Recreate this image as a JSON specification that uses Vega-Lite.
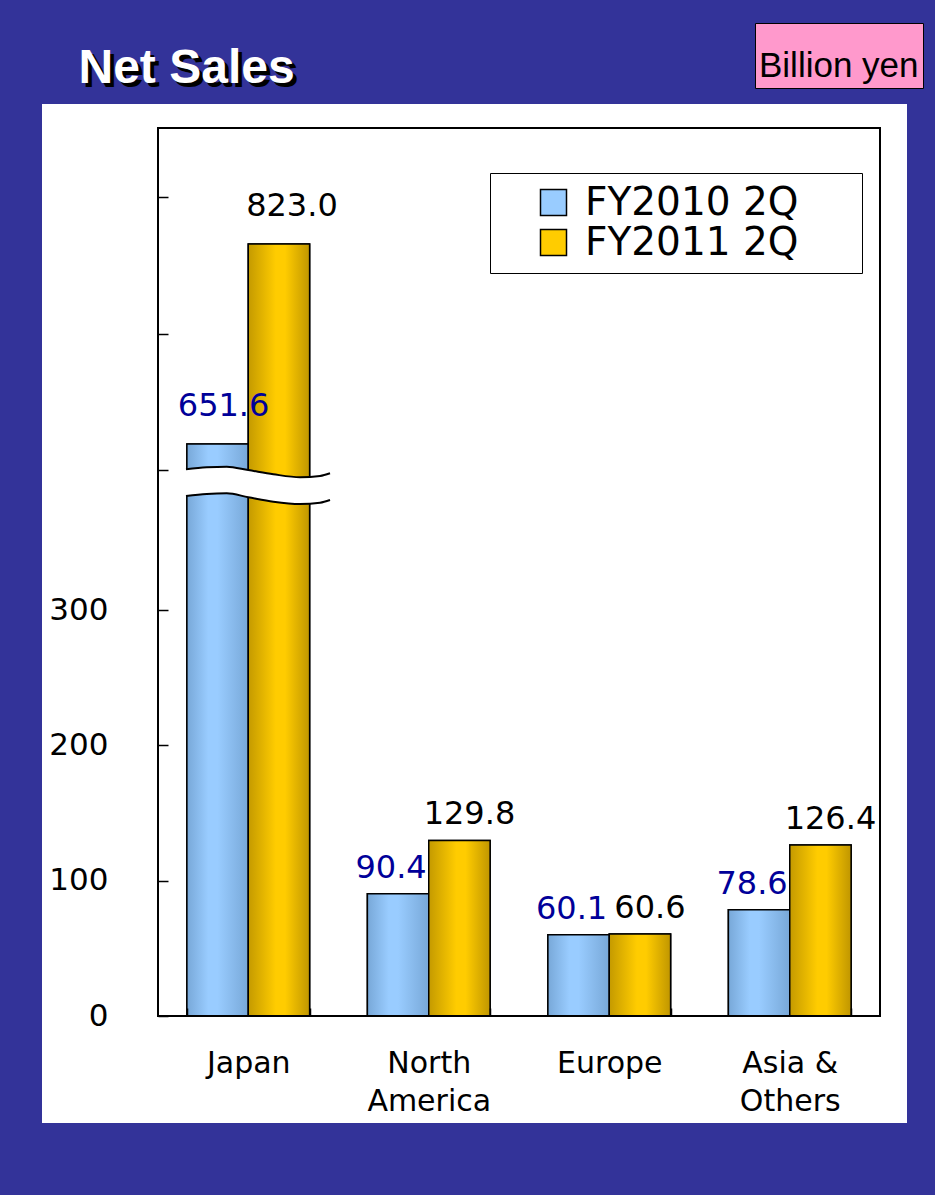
{
  "$schema": "https://vega.github.io/schema/vega-lite/v6.json",
  "width": 865,
  "height": 1019,
  "autosize": {"type": "none"},
  "padding": {"left": 42, "top": 104, "right": 28, "bottom": 72},
  "background": "#333399",
  "view": {"fill": "white", "stroke": null},
  "config": {"view": {"fill": "white", "stroke": null}, "font": "DejaVu Sans"},
  "datasets": {
    "sales": [
      {"region": "Japan", "series": "FY2010 2Q", "value": 651.6},
      {"region": "Japan", "series": "FY2011 2Q", "value": 823.0},
      {"region": "North America", "series": "FY2010 2Q", "value": 90.4},
      {"region": "North America", "series": "FY2011 2Q", "value": 129.8},
      {"region": "Europe", "series": "FY2010 2Q", "value": 60.1},
      {"region": "Europe", "series": "FY2011 2Q", "value": 60.6},
      {"region": "Asia & Others", "series": "FY2010 2Q", "value": 78.6},
      {"region": "Asia & Others", "series": "FY2011 2Q", "value": 126.4}
    ],
    "frame": [{"x0": 0, "x1": 4, "y0": 0, "y1": 922.4}],
    "wave": [
      {"x": 0.155, "top": 404.1, "bottom": 384.3},
      {"x": 0.270, "top": 405.5, "bottom": 385.8},
      {"x": 0.381, "top": 406.0, "bottom": 386.3},
      {"x": 0.500, "top": 403.5, "bottom": 383.4},
      {"x": 0.639, "top": 400.4, "bottom": 380.1},
      {"x": 0.787, "top": 398.2, "bottom": 378.4},
      {"x": 0.898, "top": 399.1, "bottom": 379.4},
      {"x": 0.953, "top": 401.1, "bottom": 381.4}
    ],
    "unit": [{"unit": "Billion yen"}]
  },
  "layer": [
    {
      "data": {"name": "sales"},
      "encoding": {
        "x": {
          "field": "region",
          "type": "nominal",
          "sort": ["Japan", "North America", "Europe", "Asia & Others"],
          "scale": {"range": [116, 838], "paddingInner": 0.32, "paddingOuter": 0.16},
          "axis": {
            "title": "Net Sales",
            "titleColor": "white",
            "titleFont": "Liberation Sans",
            "titleFontSize": 48,
            "titleFontWeight": "bold",
            "titleX": 36,
            "titleY": -934,
            "titleAlign": "left",
            "titleBaseline": "alphabetic",
            "titleAngle": 0,
            "offset": -107,
            "domain": false,
            "tickBand": "extent",
            "tickSize": -8,
            "tickColor": "black",
            "tickWidth": 1.5,
            "labelFont": "DejaVu Sans",
            "labelFontSize": 30,
            "labelColor": "black",
            "labelPadding": 40,
            "labelAngle": 0,
            "labelLineHeight": 38,
            "labelExpr": "datum.value == 'North America' ? ['North', 'America'] : datum.value == 'Asia & Others' ? ['Asia &', 'Others'] : datum.value",
            "zindex": 1
          }
        },
        "xOffset": {"field": "series", "type": "nominal"},
        "y": {
          "field": "value",
          "type": "quantitative",
          "title": "Net Sales",
          "scale": {"domain": [0, 413.9, 641.3, 922.4], "range": [912, 352, 352, 24], "nice": false, "zero": false},
          "axis": {
            "titleColor": "black",
            "titleFont": "Liberation Sans",
            "titleFontSize": 48,
            "titleFontWeight": "bold",
            "titleX": -76,
            "titleY": -18,
            "titleAngle": 0,
            "titleAlign": "left",
            "titleBaseline": "alphabetic",
            "offset": -116,
            "domain": false,
            "grid": false,
            "values": [0, 100, 200, 300, 403.5, 746, 863],
            "labelExpr": "datum.value <= 300 ? datum.label : ''",
            "labelFlush": false,
            "labelOverlap": false,
            "tickSize": -10,
            "tickWidth": 1.5,
            "tickColor": "black",
            "labelFont": "DejaVu Sans",
            "labelFontSize": 31,
            "labelColor": "black",
            "labelPadding": 60
          }
        }
      },
      "layer": [
        {
          "mark": {"type": "bar", "stroke": "black", "strokeWidth": 1.5},
          "encoding": {
            "fill": {
              "field": "series",
              "type": "nominal",
              "scale": {"domain": ["FY2010 2Q", "FY2011 2Q"], "range": ["#99ccff", "#ffcc00"]},
              "legend": {
                "orient": "none",
                "legendX": 448,
                "legendY": 69,
                "title": null,
                "fillColor": "white",
                "strokeColor": "black",
                "padding": 10,
                "symbolType": "square",
                "symbolSize": 676,
                "symbolStrokeColor": "black",
                "symbolStrokeWidth": 1.5,
                "symbolOffset": 34,
                "labelFont": "DejaVu Sans",
                "labelFontSize": 39,
                "labelColor": "black",
                "labelOffset": 12,
                "labelLimit": 400,
                "labelExpr": "datum.label + '  \u2800'",
                "rowPadding": 0
              }
            }
          }
        },
        {
          "transform": [{"filter": "datum.series == 'FY2010 2Q'"}],
          "mark": {
            "type": "bar", "stroke": "black", "strokeWidth": 1.5,
            "fill": {"gradient": "linear", "x1": 0, "y1": 0, "x2": 1, "y2": 0, "stops": [
              {"offset": 0, "color": "#78a8d8"},
              {"offset": 0.35, "color": "#99ccff"},
              {"offset": 0.5, "color": "#99ccff"},
              {"offset": 1, "color": "#78a8d8"}
            ]}
          }
        },
        {
          "transform": [{"filter": "datum.series == 'FY2011 2Q'"}],
          "mark": {
            "type": "bar", "stroke": "black", "strokeWidth": 1.5,
            "fill": {"gradient": "linear", "x1": 0, "y1": 0, "x2": 1, "y2": 0, "stops": [
              {"offset": 0, "color": "#c49a00"},
              {"offset": 0.45, "color": "#ffcc00"},
              {"offset": 0.6, "color": "#ffcc00"},
              {"offset": 1, "color": "#c09600"}
            ]}
          }
        },
        {
          "transform": [{"filter": "datum.series == 'FY2010 2Q' && datum.value <= 400"}],
          "mark": {"type": "text", "baseline": "alphabetic", "dy": -16, "dx": -7, "fontSize": 32, "font": "DejaVu Sans", "color": "#000099"},
          "encoding": {"text": {"field": "value", "type": "quantitative", "format": ".1f"}}
        },
        {
          "transform": [{"filter": "datum.series == 'FY2010 2Q' && datum.value > 400"}],
          "mark": {"type": "text", "baseline": "alphabetic", "dy": -28, "dx": 6, "fontSize": 32, "font": "DejaVu Sans", "color": "#000099"},
          "encoding": {"text": {"field": "value", "type": "quantitative", "format": ".1f"}}
        },
        {
          "transform": [{"filter": "datum.series == 'FY2011 2Q' && datum.value <= 400"}],
          "mark": {"type": "text", "baseline": "alphabetic", "dy": -16, "dx": 10, "fontSize": 32, "font": "DejaVu Sans", "color": "black"},
          "encoding": {"text": {"field": "value", "type": "quantitative", "format": ".1f"}}
        },
        {
          "transform": [{"filter": "datum.series == 'FY2011 2Q' && datum.value > 400"}],
          "mark": {"type": "text", "baseline": "alphabetic", "dy": -28, "dx": 13, "fontSize": 32, "font": "DejaVu Sans", "color": "black"},
          "encoding": {"text": {"field": "value", "type": "quantitative", "format": ".1f"}}
        }
      ]
    },
    {
      "layer": [
        {
          "data": {"name": "wave"},
          "mark": {"type": "area", "fill": "white", "interpolate": "monotone"},
          "encoding": {
            "x": {"field": "x", "type": "quantitative", "scale": {"domain": [0, 4], "range": [116, 838]}, "axis": null},
            "y": {"field": "top", "type": "quantitative", "title": "Net Sales"},
            "y2": {"field": "bottom"}
          }
        },
        {
          "data": {"name": "wave"},
          "mark": {"type": "line", "stroke": "black", "strokeWidth": 2, "interpolate": "monotone"},
          "encoding": {
            "x": {"field": "x", "type": "quantitative", "scale": {"domain": [0, 4], "range": [116, 838]}, "axis": null},
            "y": {"field": "top", "type": "quantitative", "title": "Net Sales"}
          }
        },
        {
          "data": {"name": "wave"},
          "mark": {"type": "line", "stroke": "black", "strokeWidth": 2, "interpolate": "monotone"},
          "encoding": {
            "x": {"field": "x", "type": "quantitative", "scale": {"domain": [0, 4], "range": [116, 838]}, "axis": null},
            "y": {"field": "bottom", "type": "quantitative", "title": "Net Sales"}
          }
        },
        {
          "data": {"name": "frame"},
          "mark": {"type": "rect", "fill": "transparent", "stroke": "black", "strokeWidth": 2},
          "encoding": {
            "x": {"field": "x0", "type": "quantitative", "scale": {"domain": [0, 4], "range": [116, 838]}, "axis": null},
            "x2": {"field": "x1"},
            "y": {"field": "y0", "type": "quantitative", "title": "Net Sales"},
            "y2": {"field": "y1"}
          }
        },
        {
          "data": {"name": "unit"},
          "mark": {"type": "point", "opacity": 0},
          "encoding": {
            "shape": {
              "field": "unit",
              "type": "nominal",
              "legend": {
                "orient": "none",
                "legendX": 713,
                "legendY": -81,
                "title": null,
                "fillColor": "#ff99cc",
                "strokeColor": "black",
                "padding": 4,
                "symbolSize": 1900,
                "symbolOpacity": 0,
                "symbolStrokeWidth": 0,
                "labelOffset": -44,
                "labelBaseline": "top",
                "labelFont": "Liberation Sans",
                "labelFontSize": 35,
                "labelColor": "black",
                "labelLimit": 300
              }
            }
          }
        }
      ]
    }
  ],
  "resolve": {"scale": {"x": "independent"}, "axis": {"x": "independent"}}
}
